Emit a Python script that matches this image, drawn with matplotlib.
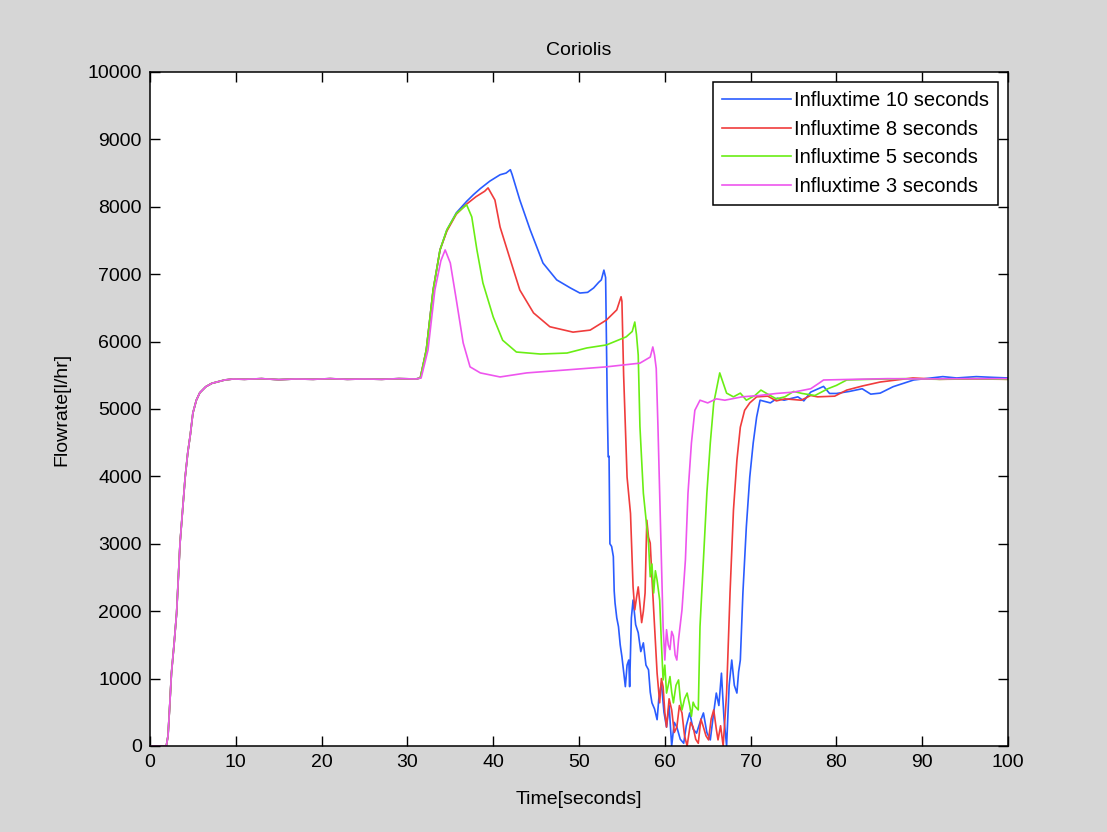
import matplotlib
matplotlib.use('Agg')
import matplotlib.pyplot as plt

# common start-up part (all four runs overlap here)
t_start = [0, 1.5, 1.9, 2.1, 2.3, 2.5, 2.8, 3.1, 3.5, 3.8, 4.1, 4.4, 4.7, 5.0, 5.4, 5.8,
           6.5, 7.2, 7.8, 8.7, 9.7, 11, 13, 15, 17, 19, 21, 23, 25, 27, 29, 31]
y_start = [0, 0, 0, 150, 600, 1080, 1500, 1970, 3010, 3500, 3990, 4350, 4620, 4940, 5130, 5240,
           5330, 5380, 5400, 5430, 5445, 5440, 5450, 5435, 5445, 5440, 5450, 5440, 5445, 5440, 5450, 5445]

t_10 = [31.5, 32.2, 33.0, 33.8, 34.6, 35.7, 36.9, 37.7, 38.5, 39.6, 40.8, 41.5, 42.0, 42.2, 43.1,
        44.3, 45.8, 47.4, 49.0, 50.1, 51.0, 51.7, 52.3, 52.6, 52.9, 53.1, 53.3, 53.4, 53.5, 53.6,
        53.8, 54.0, 54.1, 54.2, 54.4, 54.6, 54.8, 55.0, 55.2, 55.4, 55.6, 55.8, 55.9, 56.1, 56.3,
        56.6, 56.9, 57.2, 57.5, 57.8, 58.1, 58.3, 58.5, 58.8, 59.1, 59.3, 59.6, 59.9, 60.2, 60.5,
        60.8, 61.1, 61.4, 61.8, 62.2, 62.5, 62.9, 63.3, 63.7, 64.1, 64.5, 64.9, 65.3, 65.7, 66.0,
        66.3, 66.6, 66.9, 67.2, 67.5, 67.8, 68.1, 68.4, 68.6, 68.8, 69.1, 69.5, 69.9, 70.3, 70.7,
        71.1, 72.3, 73.1, 73.9, 75.5, 76.2, 77.0, 78.5, 79.2, 80.0, 81.5, 83.0, 84.0, 85.1, 86.6,
        89.0, 92.4, 94.0, 96.3, 98.0, 100]
y_10 = [5460, 5875, 6765, 7360, 7655, 7910, 8080, 8180, 8270, 8380, 8475, 8500, 8550, 8480, 8100,
        7660, 7165, 6915, 6795, 6720, 6730, 6795, 6880, 6915, 7060, 6950, 5000, 4290, 4300, 3000,
        2960, 2810, 2300, 2120, 1900, 1770, 1500, 1325, 1100, 880, 1200, 1275, 880, 1900, 2165,
        1800, 1680, 1400, 1530, 1200, 1130, 800, 640, 550, 390, 700, 935, 500, 280, 600,
        0, 350, 280, 100, 40, 300, 490, 250, 190, 350, 490, 200, 90, 500, 785,
        600, 1080, 400, 0, 900, 1275, 900, 785, 1100, 1275, 2270, 3250, 3990, 4495, 4880,
        5130, 5090, 5160, 5130, 5180, 5120, 5250, 5335, 5230, 5230, 5260, 5300, 5220, 5235, 5330,
        5430, 5480, 5460, 5480, 5470, 5460]

t_8 = [31.5, 32.2, 33.0, 33.8, 34.6, 35.7, 36.9, 38.0, 39.0, 39.4, 40.2, 40.8, 42.0, 43.1, 44.7,
       46.6, 49.3, 51.3, 53.2, 54.4, 54.9, 55.0, 55.2, 55.6, 56.0, 56.3, 56.5, 56.7, 56.9, 57.1,
       57.3, 57.5, 57.7, 57.9, 58.1, 58.3, 58.5, 58.7, 59.1, 59.4, 59.6, 59.8, 60.0, 60.2, 60.5,
       60.8, 61.1, 61.4, 61.7, 62.0, 62.3, 62.6, 63.0, 63.3, 63.6, 63.9, 64.2, 64.5, 64.8, 65.1,
       65.4, 65.7, 66.0, 66.2, 66.5, 66.8, 67.2, 67.6, 68.0, 68.4, 68.8, 69.3, 69.9, 70.7, 72.0,
       73.0, 74.0, 75.9, 77.0, 77.8, 79.8, 81.2, 83.0, 85.1, 88.9, 92, 96, 100]
y_8 = [5460, 5875, 6765, 7360, 7640, 7890, 8040, 8150, 8230, 8280, 8100, 7700, 7210, 6765, 6425,
       6220, 6140, 6170, 6320, 6470, 6665, 6600, 5500, 3990, 3450, 2360, 2020, 2200, 2360, 2100,
       1830, 2000, 2270, 3350, 3100, 3010, 2500, 2020, 1080, 640, 1000, 880, 500, 280, 700,
       535, 200, 280, 600, 490, 150, 0, 350, 280, 100, 40, 400, 280, 150, 90,
       400, 535, 250, 90, 300, 0, 785, 2270, 3500, 4240, 4730, 4980, 5090, 5180, 5190,
       5120, 5150, 5130, 5200, 5180, 5190, 5280, 5340, 5400, 5460, 5440, 5445, 5440]

t_5 = [31.5, 32.2, 33.0, 33.8, 34.6, 35.7, 36.9, 37.5, 38.1, 38.8, 40.0, 41.1, 42.7, 45.5, 48.6,
       50.9, 53.2, 55.5, 56.2, 56.5, 56.7, 56.9, 57.1, 57.3, 57.5, 57.9, 58.1, 58.3, 58.5, 58.7,
       58.9, 59.1, 59.4, 59.6, 59.8, 60.0, 60.2, 60.4, 60.6, 60.8, 61.0, 61.3, 61.6, 61.8, 62.0,
       62.3, 62.6, 62.9, 63.1, 63.3, 63.5, 63.9, 64.1, 64.5, 64.9, 65.3, 65.7, 66.0, 66.4, 66.8,
       67.2, 68.0, 68.8, 69.5, 70.5, 71.2, 72, 73, 74, 75, 76, 77.5, 79, 80, 81.2,
       84, 88, 92, 96, 100]
y_5 = [5460, 5875, 6765, 7360, 7660, 7900, 8030, 7850, 7360, 6870, 6365, 6020, 5845, 5815, 5830,
       5905, 5950, 6070, 6150, 6290, 6100, 5800, 4740, 4240, 3750, 3250, 3010, 2510, 2700, 2270,
       2600, 2460, 2165, 1530, 980, 1200, 785, 900, 1030, 800, 640, 900, 980, 700, 535,
       700, 785, 600, 440, 650, 590, 535, 1770, 2760, 3750, 4495, 5090, 5280, 5535, 5385,
       5235, 5180, 5235, 5130, 5200, 5280, 5220, 5150, 5180, 5260, 5230, 5200, 5300, 5350, 5430,
       5440, 5450, 5440, 5450, 5440]

t_3 = [31.6, 32.4, 33.2, 33.9, 34.4, 35.0, 35.7, 36.5, 37.3, 38.5, 40.8, 43.9, 48.6, 53.2, 57.1,
       58.3, 58.6, 58.8, 59.0, 59.2, 59.4, 59.6, 59.8, 60.0, 60.2, 60.4, 60.6, 60.8, 61.0, 61.2,
       61.4, 61.6, 62.0, 62.4, 62.7, 63.1, 63.5, 64.1, 65, 66, 67, 69, 71, 73, 75,
       77, 78, 78.5, 82, 86, 90, 95, 100]
y_3 = [5460, 5875, 6765, 7200, 7360, 7165, 6620, 5980, 5625, 5535, 5475, 5535, 5580, 5625, 5680,
       5770, 5920, 5800, 5600, 4740, 3750, 2760, 1770, 1275, 1725, 1500, 1430, 1700, 1630, 1350,
       1275, 1580, 2020, 2760, 3750, 4495, 4980, 5130, 5090, 5150, 5130, 5180, 5200, 5230, 5250,
       5300, 5385, 5430, 5440, 5450, 5445, 5450, 5450]

labels = ['Influxtime 10 seconds', 'Influxtime 8 seconds', 'Influxtime 5 seconds', 'Influxtime 3 seconds']
colors = ['#2a5cff', '#f03c3c', '#6aee14', '#ee55ee']

plt.rcParams['font.family'] = ['Liberation Sans', 'DejaVu Sans']

fig = plt.figure(figsize=(11.07, 8.32), dpi=100, facecolor='#d6d6d6')
ax = fig.add_axes([0.1355, 0.1034, 0.7751, 0.8101])

series = [(t_10, y_10), (t_8, y_8), (t_5, y_5), (t_3, y_3)]
for (t, y), lab, col in zip(series, labels, colors):
    ax.plot(t_start + t, y_start + y, color=col, lw=1.2, label=lab)

ax.set_xlim(0, 100)
ax.set_ylim(0, 10000)
ax.set_xticks(range(0, 101, 10))
ax.set_yticks(range(0, 10001, 1000))
ax.tick_params(direction='in', top=True, right=True, length=7, width=1, labelsize=14, pad=6)
for s in ax.spines.values():
    s.set_linewidth(1.1)

ax.set_title('Coriolis', fontsize=14, pad=12)
ax.set_xlabel('Time[seconds]', fontsize=14, labelpad=14)
ax.set_ylabel('Flowrate[l/hr]', fontsize=14, labelpad=12)

leg = ax.legend(loc='upper right', fontsize=14.5, frameon=True, fancybox=False,
                edgecolor='black', framealpha=1, handlelength=3.4, labelspacing=0.48,
                borderaxespad=0.5, handletextpad=0.15, borderpad=0.45)
leg.get_frame().set_linewidth(1.1)

fig.savefig('out.png', dpi=100, facecolor=fig.get_facecolor())
